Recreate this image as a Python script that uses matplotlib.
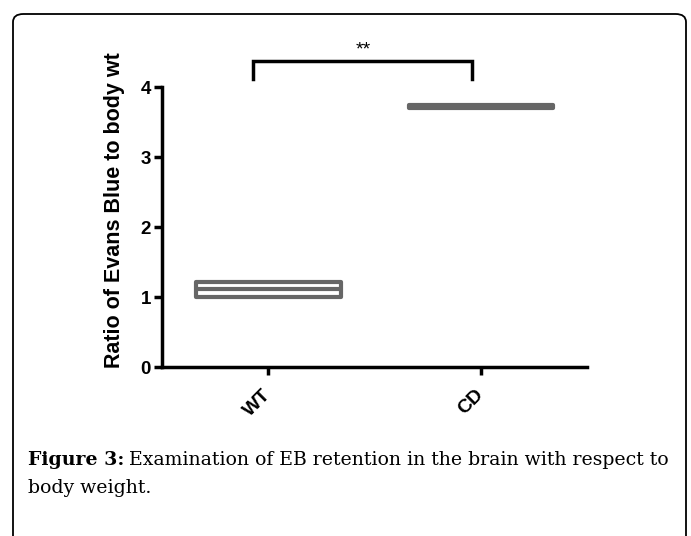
import matplotlib
matplotlib.use('Agg')
import matplotlib.pyplot as plt
from matplotlib.patches import FancyBboxPatch

# dados (barras flutuantes min-max com linha na media)
grupos = ['WT', 'CD']
minimos = [1.00, 3.70]
maximos = [1.22, 3.74]
medias = [1.12, 3.72]
yticks = [0, 1, 2, 3, 4]
signif = '**'

cinza = '#666666'

fig = plt.figure(figsize=(6.91, 5.36), dpi=100)

# moldura arredondada da figura
moldura = FancyBboxPatch((13 / 691, -0.05), 673 / 691, 1.05 - 14 / 536,
                         boxstyle='round,pad=0,rounding_size=0.015',
                         transform=fig.transFigure, fill=False,
                         edgecolor='black', linewidth=1.3)
fig.patches.append(moldura)

ax = fig.add_axes([162 / 691, 1 - 367 / 536, 425 / 691, 280 / 536])

x = list(range(len(grupos)))
ax.bar(x, [a - b for a, b in zip(maximos, minimos)], bottom=minimos, width=0.68,
       facecolor='none', edgecolor=cinza, linewidth=3, joinstyle='round')
for xi, m in zip(x, medias):
    ax.plot([xi - 0.34, xi + 0.34], [m, m], color=cinza, linewidth=3,
            solid_capstyle='round')

# colchete de significancia
ax.plot([-0.07, -0.07, 0.96, 0.96], [4.11, 4.37, 4.37, 4.11], color='black',
        linewidth=2.5, clip_on=False, solid_joinstyle='miter')
ax.text(0.445, 4.46, signif, ha='center', va='baseline', fontsize=14,
        family='Liberation Sans')

ax.set_xlim(-0.5, 1.5)
ax.set_ylim(0, 4)
ax.set_yticks(yticks)
ax.set_xticks(x)
ax.set_xticklabels(grupos, rotation=45, ha='right', va='center',
                   rotation_mode='anchor', fontsize=14, fontweight='bold',
                   family='Liberation Sans')
for t in ax.get_yticklabels():
    t.set_fontsize(13.5)
    t.set_fontweight('bold')
    t.set_family('Liberation Sans')
ax.spines['top'].set_visible(False)
ax.spines['right'].set_visible(False)
ax.spines['left'].set_linewidth(2.5)
ax.spines['bottom'].set_linewidth(2.5)
ax.tick_params(width=2.5, length=6, pad=2)
ax.tick_params(axis='x', pad=12)
ax.set_ylabel('Ratio of Evans Blue to body wt', fontsize=15.5, fontweight='bold',
              family='Liberation Sans')
ax.yaxis.set_label_coords(-0.087, 0.56)

# legenda da figura
fig.canvas.draw()
r = fig.canvas.get_renderer()
fonte = 'DejaVu Serif'
tam = 12
t1 = fig.text(28 / 691, 1 - 465 / 536, 'Figure 3:', fontsize=tam, fontweight='bold',
              family=fonte, va='baseline')
bb = t1.get_window_extent(renderer=r)
t2 = fig.text((bb.x1 + 5) / 691, 1 - 465 / 536,
              'Examination of EB retention in the brain with respect to',
              fontsize=tam, family=fonte, va='baseline')
# ajusta o tamanho para a linha ir ate a margem direita (x=671)
fim = t2.get_window_extent(renderer=r).x1
tam = tam * (668 - 28) / (fim - 28)
t1.set_fontsize(tam)
bb = t1.get_window_extent(renderer=r)
t2.set_fontsize(tam)
t2.set_x((bb.x1 + 5) / 691)
fig.text(28 / 691, 1 - 493 / 536, 'body weight.', fontsize=tam,
         family=fonte, va='baseline')

fig.savefig('out.png', dpi=100)
